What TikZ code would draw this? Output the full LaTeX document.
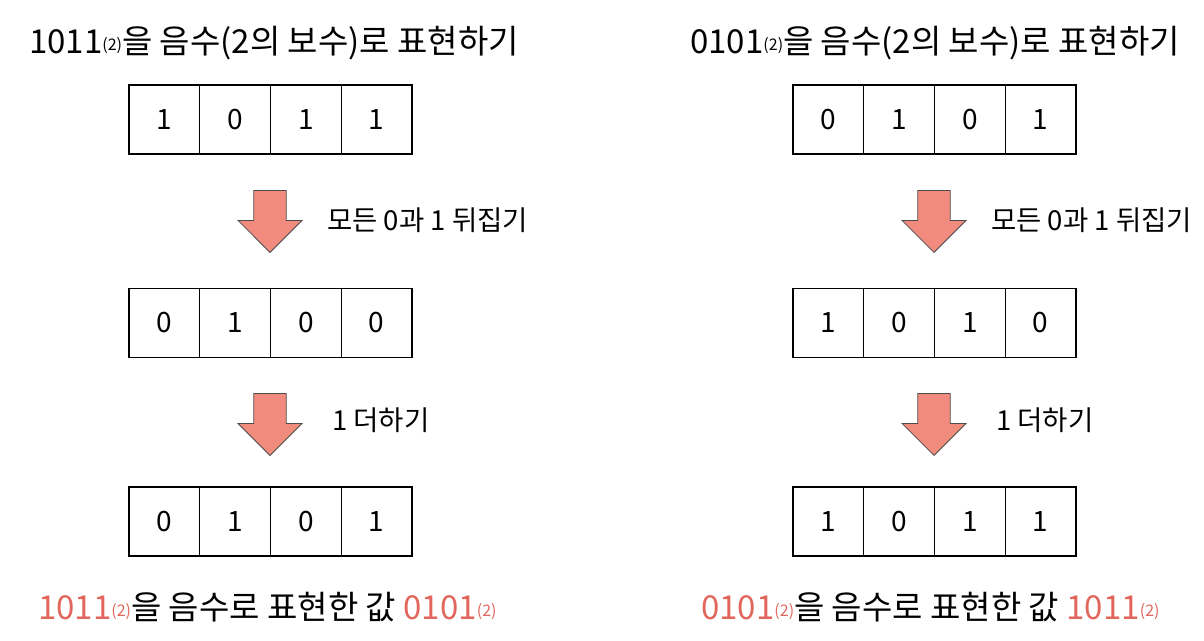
\documentclass[tikz,border=0pt]{standalone}
\usepackage{fontspec}
\newfontfamily\kr{Noto Sans CJK KR}
\usepackage{tikz}
\usetikzlibrary{positioning, shapes, shapes.arrows, matrix}
\definecolor{arrowfill}{RGB}{241,139,125}
\definecolor{redtext}{RGB}{226,102,92}
\newcommand{\base}{\raisebox{3pt}{\fontsize{16}{16}\selectfont(2)}}

\begin{document}
\begin{tikzpicture}[x=1pt, y=-1pt,
	every node/.style={font=\kr},
	title/.style={anchor=west, inner sep=0pt, font=\kr\fontsize{33}{38}\selectfont},
	note/.style={anchor=west, inner sep=0pt, font=\kr\fontsize{27.5}{32}\selectfont},
	bits/.style={matrix of nodes, column sep=-1.3pt, inner sep=0pt,
		nodes={draw, line width=1.3pt, minimum width=70.7pt, minimum height=69pt,
			inner sep=0pt, font=\kr\fontsize{28}{32}\selectfont}},
	flip/.style={single arrow, shape border rotate=270, draw=black!70, line width=0.8pt,
		fill=arrowfill, minimum height=62pt, minimum width=64pt, anchor=tip,
		single arrow head extend=15pt, inner xsep=15pt, inner ysep=17pt}]

\fill[white] (0,0) rectangle (1204,640);
\useasboundingbox (0,0) rectangle (1204,640);

% left: 1011
\node[title] (lhead) at (29,43) {1011\base{}을 음수(2의 보수)로 표현하기};
\matrix[bits] (l1) at (270.5,119.5) {1 & 0 & 1 & 1\\};
\node[flip] (lf1) at (270,253) {};
\node[note] (ln1) at (327,220) {모든 0과 1 뒤집기};
\matrix[bits] (l2) at (270.5,323) {0 & 1 & 0 & 0\\};
\node[flip] (lf2) at (270,456) {};
\node[note] (ln2) at (332,420) {1 더하기};
\matrix[bits] (l3) at (270.5,521.5) {0 & 1 & 0 & 1\\};
\node[title] (lfoot) at (38,607) {\textcolor{redtext}{1011\base}을 음수로 표현한 값 \textcolor{redtext}{0101\base}};

% right: 0101
\node[title] (rhead) at (690,43) {0101\base{}을 음수(2의 보수)로 표현하기};
\matrix[bits] (r1) at (934.5,119.5) {0 & 1 & 0 & 1\\};
\node[flip] (rf1) at (934,253) {};
\node[note] (rn1) at (991,220) {모든 0과 1 뒤집기};
\matrix[bits] (r2) at (934.5,323) {1 & 0 & 1 & 0\\};
\node[flip] (rf2) at (934,456) {};
\node[note] (rn2) at (996,420) {1 더하기};
\matrix[bits] (r3) at (934.5,521.5) {1 & 0 & 1 & 1\\};
\node[title] (rfoot) at (701,607) {\textcolor{redtext}{0101\base}을 음수로 표현한 값 \textcolor{redtext}{1011\base}};
\end{tikzpicture}
\end{document}
